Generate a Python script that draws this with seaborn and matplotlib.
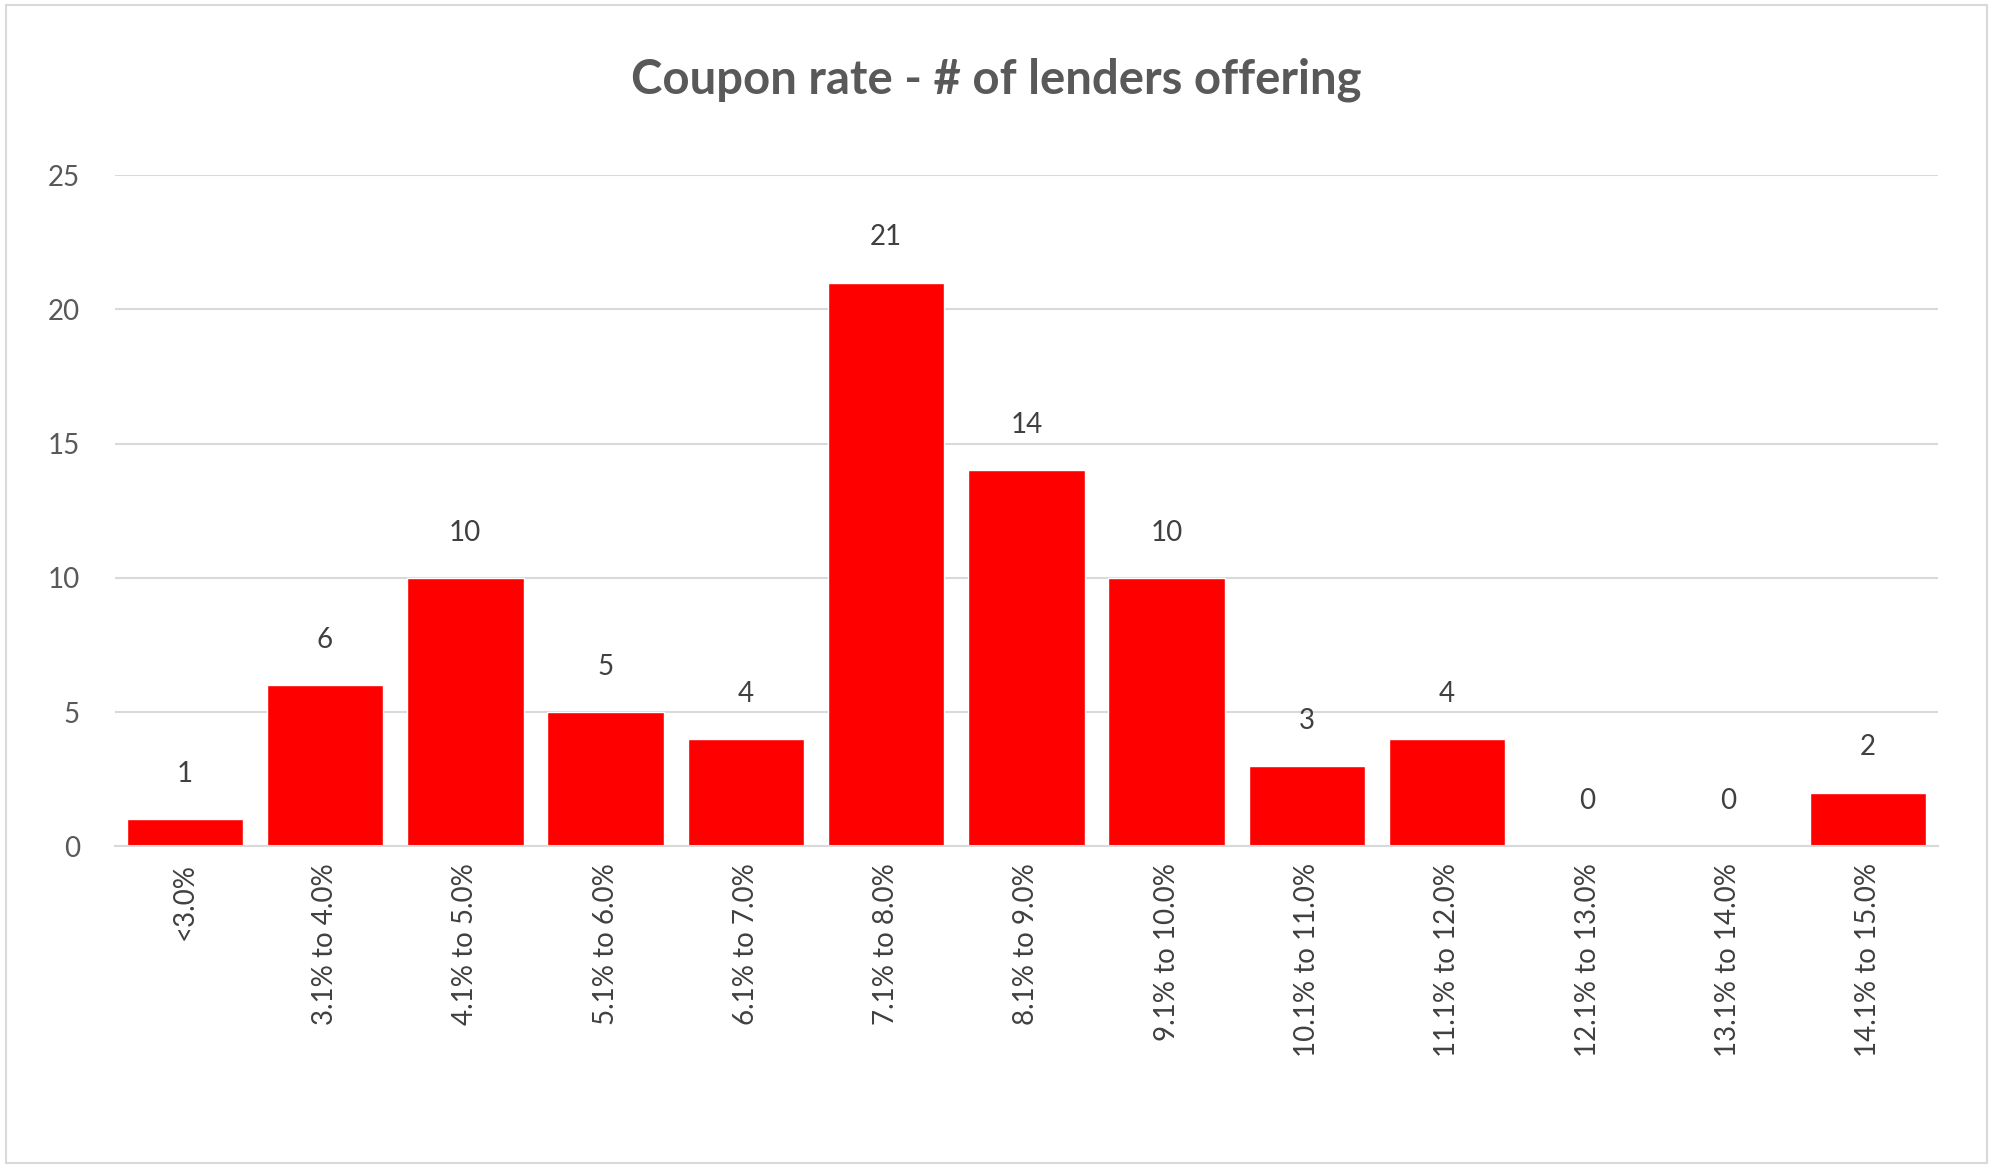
import matplotlib
matplotlib.use("Agg")
import matplotlib.pyplot as plt
import seaborn as sns
import pandas as pd

categories = ["<3.0%", "3.1% to 4.0%", "4.1% to 5.0%", "5.1% to 6.0%", "6.1% to 7.0%",
              "7.1% to 8.0%", "8.1% to 9.0%", "9.1% to 10.0%", "10.1% to 11.0%",
              "11.1% to 12.0%", "12.1% to 13.0%", "13.1% to 14.0%", "14.1% to 15.0%"]
lenders = [1, 6, 10, 5, 4, 21, 14, 10, 3, 4, 0, 0, 2]

sns.set_style("white")
plt.rcParams['font.family'] = ['Lato', 'DejaVu Sans']

df = pd.DataFrame({"rate": categories, "n": lenders})

fig = plt.figure(figsize=(19.93, 11.68), dpi=100)
ax = fig.add_axes([0.0575, 0.2754, 0.915, 0.5746])
sns.barplot(data=df, x="rate", y="n", color="#FF0000", width=0.83, saturation=1, ax=ax)

for i, v in enumerate(lenders):
    ax.text(i, v + 1.2, str(v), ha="center", va="bottom", fontsize=20, color="#404040")

ax.set_ylim(0, 25)
ax.set_xlim(-0.5, len(categories) - 0.5)
ax.set_yticks(range(0, 26, 5))
ax.yaxis.grid(True, color="#D9D9D9", linewidth=1.5)
ax.set_axisbelow(True)
for s in ["top", "right", "left"]:
    ax.spines[s].set_visible(False)
ax.spines["bottom"].set_color("#D9D9D9")
ax.spines["bottom"].set_linewidth(1.5)
ax.tick_params(axis="x", rotation=90, labelsize=20, labelcolor="#404040", length=0, pad=12)
ax.tick_params(axis="y", labelsize=20, labelcolor="#595959", length=0, pad=25)
ax.set_xlabel("")
ax.set_ylabel("")

fig.text(0.5, 0.932, "Coupon rate - # of lenders offering", ha="center", va="center",
         fontsize=34, fontweight="bold", color="#595959")
fig.patches.append(plt.Rectangle((0.003, 0.004), 0.994, 0.992, transform=fig.transFigure,
                                 fill=False, edgecolor="#D9D9D9", linewidth=1.5))

fig.savefig("out.png", dpi=100)
